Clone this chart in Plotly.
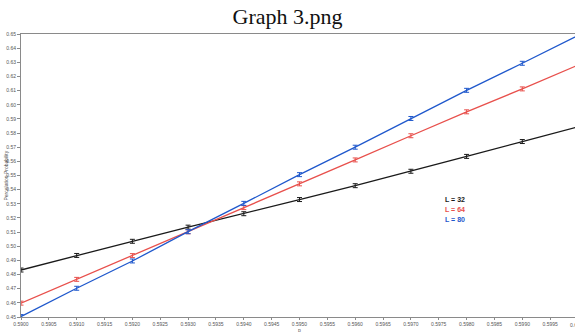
import plotly.graph_objects as go

# Occupation probability p (sampled every 0.001)
p_values = [0.5900, 0.5910, 0.5920, 0.5930, 0.5940, 0.5950,
            0.5960, 0.5970, 0.5980, 0.5990, 0.6000]

# Percolation probability for each lattice size
perc_L32 = [0.4832, 0.4935, 0.5035, 0.5135, 0.5230, 0.5330,
            0.5428, 0.5530, 0.5635, 0.5740, 0.5844]
perc_L64 = [0.4598, 0.4766, 0.4934, 0.5102, 0.5273, 0.5441,
            0.5610, 0.5781, 0.5950, 0.6112, 0.6280]
perc_L80 = [0.4503, 0.4703, 0.4896, 0.5103, 0.5303, 0.5506,
            0.5700, 0.5903, 0.6102, 0.6293, 0.6490]
err = 0.0014

series_names = ["L = 32", "L = 64", "L = 80"]
series_colors = ["#1a1a1a", "#e8504c", "#1f58cc"]
series_values = [perc_L32, perc_L64, perc_L80]

x_ticks = [round(0.5900 + 0.0005 * i, 4) for i in range(20)]
x_end = 0.59 + 554 / 557 * 0.01

fig = go.Figure()
for name, color, vals in zip(series_names, series_colors, series_values):
    fig.add_trace(go.Scatter(
        x=p_values, y=vals, mode="lines", name=name,
        line=dict(color=color, width=1.3),
        error_y=dict(type="constant", value=err, width=2.5,
                     thickness=1, color=color),
        showlegend=False,
    ))

axis_gray = "#8a8a8a"
tick_font = dict(family="Liberation Sans", size=5, color="#555555")

fig.update_xaxes(
    range=[0.59, x_end], tickvals=x_ticks,
    ticktext=[f"{v:.4f}" for v in x_ticks],
    ticks="outside", ticklen=2, tickcolor=axis_gray,
    showline=True, linecolor=axis_gray, linewidth=1, mirror=True,
    showgrid=False, zeroline=False, tickfont=tick_font,
)
fig.update_yaxes(
    range=[0.45, 0.65], dtick=0.01, tick0=0.45, tickformat=".2f",
    ticks="outside", ticklen=3, tickcolor=axis_gray,
    showline=True, linecolor=axis_gray, linewidth=1,
    showgrid=False, zeroline=False, tickfont=tick_font,
)

annotations = [
    # last tick label on the x axis, partly beyond the plot edge
    dict(text="0.6000", xref="paper", yref="paper",
         x=(0.60 - 0.59) / (x_end - 0.59), y=0, yshift=-3,
         xanchor="center", yanchor="top", showarrow=False,
         font=tick_font),
    # axis titles
    dict(text="p", xref="paper", yref="paper", x=(0.595 - 0.59) / (x_end - 0.59),
         y=0, yshift=-8, xanchor="center", yanchor="top", showarrow=False,
         font=dict(family="Liberation Sans", size=5, color="#555555")),
    dict(text="Percolation Probability", xref="paper", yref="paper",
         x=0, xshift=-16, y=0.5, textangle=-90, xanchor="center",
         yanchor="middle", showarrow=False,
         font=dict(family="Liberation Sans", size=5, color="#555555")),
]
# series labels
label_y = [0.5327, 0.5257, 0.5187]
for name, color, ly in zip(series_names, series_colors, label_y):
    annotations.append(dict(
        text=f"<b>{name}</b>", xref="x", yref="y", x=0.59757, y=ly,
        xanchor="left", yanchor="middle", showarrow=False,
        font=dict(family="Liberation Sans", size=7, color=color),
    ))

fig.update_layout(
    width=575, height=332,
    margin=dict(l=21, r=0, t=34, b=15, pad=0),
    paper_bgcolor="white", plot_bgcolor="white",
    title=dict(text="Graph 3.png", xref="container", x=0.5,
               yref="container", y=1 - 16 / 332, xanchor="center",
               yanchor="middle",
               font=dict(family="Liberation Serif", size=22, color="#111111")),
    annotations=annotations,
)

fig.write_html("out.html")
